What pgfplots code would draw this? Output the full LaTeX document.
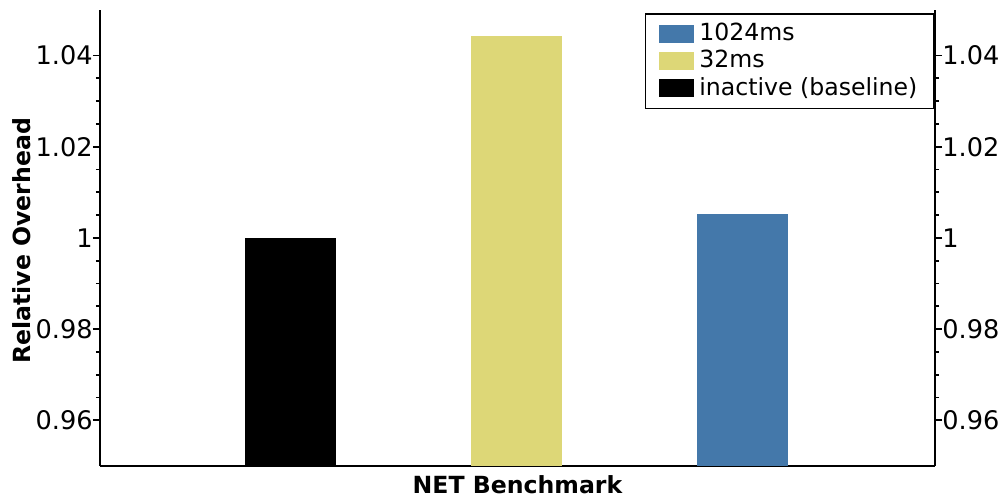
\documentclass[border=0pt]{standalone}
\usepackage{pgfplots}
\pgfplotsset{compat=1.18}
\usepackage{fontspec}
\setmainfont{DejaVu Sans}
\definecolor{cblue}{RGB}{68,120,170}
\definecolor{cyellow}{RGB}{221,215,119}
\begin{document}
\fontsize{11.8pt}{14pt}\selectfont
\begin{tikzpicture}
\pgfplotsset{
  common/.style={
    scale only axis, width=417.5pt, height=228pt,
    xmin=-0.845, xmax=2.85, ymin=0.95, ymax=1.05,
    ytick={0.96,0.98,1,1.02,1.04},
    yticklabels={0.96,0.98,1,1.02,1.04},
    minor y tick num=3,
    tick align=outside,
    major tick length=3.5pt, minor tick length=2pt,
    every tick/.style={black, line width=0.9pt},
    axis line style={line width=1pt},
    yticklabel style={font=\fontsize{12.8pt}{15pt}\selectfont, inner xsep=0pt, inner ysep=0.8pt},
    /pgf/number format/assume math mode=true,
  }
}
\begin{axis}[common,
  axis x line*=bottom, axis y line*=left,
  xtick=\empty,
  ybar, bar shift=0pt, bar width=0.4027,
  xlabel={\bfseries NET Benchmark},
  xlabel style={at={(axis description cs:0.5,0)}, anchor=center, yshift=-9.5pt},
  ylabel={\bfseries Relative Overhead},
  ylabel style={at={(axis description cs:-0.0934,0.494)}, anchor=center},
  legend style={at={(0.999,0.993)}, anchor=north east, draw=black, line width=0.8pt,
    font=\fontsize{11.8pt}{14pt}\selectfont, row sep=0pt, inner xsep=5.2pt, inner ysep=3.2pt,
    nodes={inner xsep=2.8pt, inner ysep=1.5pt}},
  legend cell align=left,
  legend image code/.code={\path (0pt,0pt); \fill[#1, draw=none] (1.5pt,-4.5pt) rectangle (19pt,4.5pt);},
]
\addplot[fill=cblue, draw=none] coordinates {(2,1.0053)};
\addlegendentry{1024ms}
\addplot[fill=cyellow, draw=none] coordinates {(1,1.0442)};
\addlegendentry{32ms}
\addplot[fill=black, draw=none] coordinates {(0,1.0)};
\addlegendentry{inactive (baseline)}
\end{axis}
\begin{axis}[common,
  axis x line=none, axis y line*=right,
]
\end{axis}
\pgfresetboundingbox
\path[use as bounding box] (-50pt,-15.5pt) rectangle (450pt,233pt);
\end{tikzpicture}
\end{document}
